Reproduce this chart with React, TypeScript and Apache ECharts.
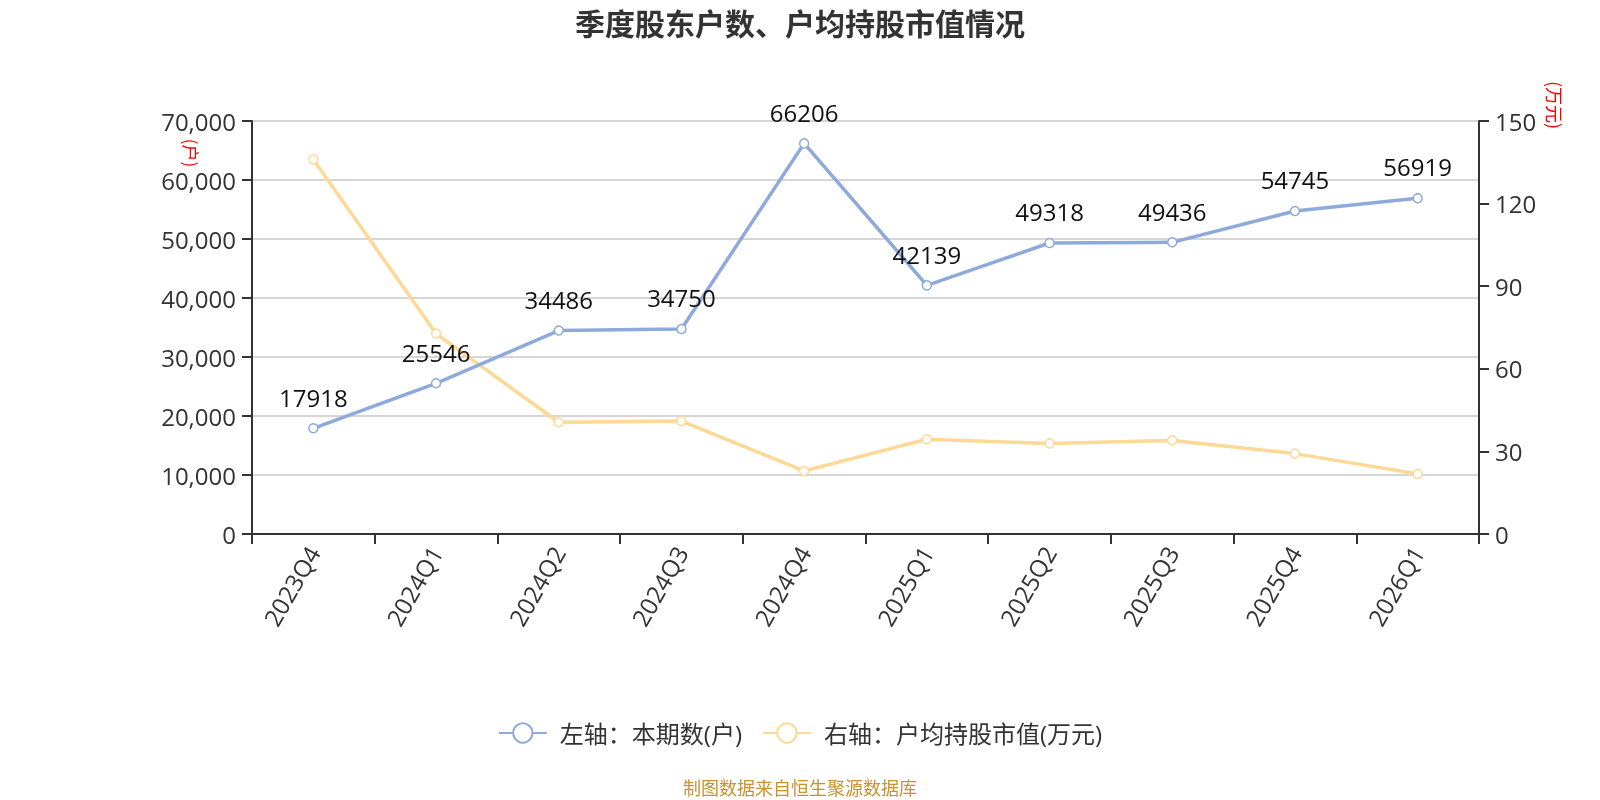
import React, { useEffect, useRef } from "react";
import * as echarts from "echarts";

const quarters = ["2023Q4", "2024Q1", "2024Q2", "2024Q3", "2024Q4", "2025Q1", "2025Q2", "2025Q3", "2025Q4", "2026Q1"];
const holders = [17918, 25546, 34486, 34750, 66206, 42139, 49318, 49436, 54745, 56919];
const avgValue = [136.0, 72.8, 40.6, 41.0, 22.9, 34.4, 32.9, 34.0, 29.2, 21.8];

const FONT = "'Open Sans', 'Noto Sans CJK SC', sans-serif";
const CJK = "'Noto Sans CJK SC', sans-serif";

const App = () => {
  const chartRef = useRef<HTMLDivElement>(null);

  useEffect(() => {
    if (!chartRef.current) return;
    const chart = echarts.init(chartRef.current, null, { renderer: "svg" });
    chart.setOption({
      animation: false,
      textStyle: { fontFamily: FONT },
      title: {
        text: "季度股东户数、户均持股市值情况",
        left: "center",
        top: 2,
        textStyle: { fontSize: 30, fontWeight: "bold", color: "#333", fontFamily: CJK },
      },
      grid: { left: 252, right: 121, top: 121, bottom: 266 },
      legend: {
        bottom: 50,
        left: "center",
        itemWidth: 48,
        itemHeight: 24,
        itemGap: 20,
        textStyle: { fontSize: 24, color: "#333", padding: [0, 0, 0, 8] },
        data: ["左轴：本期数(户)", "右轴：户均持股市值(万元)"],
      },
      xAxis: {
        type: "category",
        data: quarters,
        boundaryGap: true,
        axisLine: { lineStyle: { color: "#333", width: 2 } },
        axisTick: { show: true, length: 10, lineStyle: { color: "#333", width: 2 } },
        axisLabel: { fontSize: 24, color: "#333", rotate: 60, margin: 14 },
      },
      yAxis: [
        {
          type: "value",
          min: 0,
          max: 70000,
          interval: 10000,
          axisLine: { show: true, lineStyle: { color: "#333", width: 2 } },
          axisTick: { show: true, length: 10, lineStyle: { color: "#333", width: 2 } },
          axisLabel: { fontSize: 24, color: "#333", margin: 16 },
          splitLine: { lineStyle: { color: "#c8c8c8", width: 1.5 } },
        },
        {
          type: "value",
          min: 0,
          max: 150,
          interval: 30,
          axisLine: { show: true, lineStyle: { color: "#333", width: 2 } },
          axisTick: { show: true, length: 10, lineStyle: { color: "#333", width: 2 } },
          axisLabel: { fontSize: 24, color: "#333", margin: 16 },
          splitLine: { show: false },
        },
      ],
      graphic: [
        {
          type: "text",
          x: 191,
          y: 153,
          rotation: -Math.PI / 2,
          style: {
            text: "(户)",
            fontSize: 17,
            fontFamily: CJK,
            fill: "#f00",
            align: "center",
            verticalAlign: "middle",
          },
        },
        {
          type: "text",
          x: 1555,
          y: 105,
          rotation: -Math.PI / 2,
          style: {
            text: "(万元)",
            fontSize: 18,
            fontFamily: CJK,
            fill: "#f00",
            align: "center",
            verticalAlign: "middle",
          },
        },
        {
          type: "text",
          left: "center",
          top: 778,
          style: {
            text: "制图数据来自恒生聚源数据库",
            fontSize: 18,
            fontFamily: CJK,
            fill: "#c9922e",
          },
        },
      ],
      series: [
        {
          name: "左轴：本期数(户)",
          type: "line",
          yAxisIndex: 0,
          data: holders,
          symbol: "circle",
          symbolSize: 9,
          itemStyle: { color: "#fff", borderColor: "#8eaadb", borderWidth: 1.5 },
          lineStyle: { color: "#8eaadb", width: 3.5 },
          label: {
            show: true,
            position: "top",
            distance: 14,
            fontSize: 24,
            color: "#111",
          },
          z: 3,
        },
        {
          name: "右轴：户均持股市值(万元)",
          type: "line",
          yAxisIndex: 1,
          data: avgValue,
          symbol: "circle",
          symbolSize: 9,
          itemStyle: { color: "#fff", borderColor: "#fdd995", borderWidth: 1.5 },
          lineStyle: { color: "#fdd995", width: 3.5 },
          z: 2,
        },
      ],
    });
    return () => {
      chart.dispose();
    };
  }, []);

  return (
    <div
      ref={chartRef}
      style={{ position: "fixed", left: 0, top: 0, width: 1600, height: 800 }}
      aria-label="季度股东户数、户均持股市值情况"
    />
  );
};

export default App;
